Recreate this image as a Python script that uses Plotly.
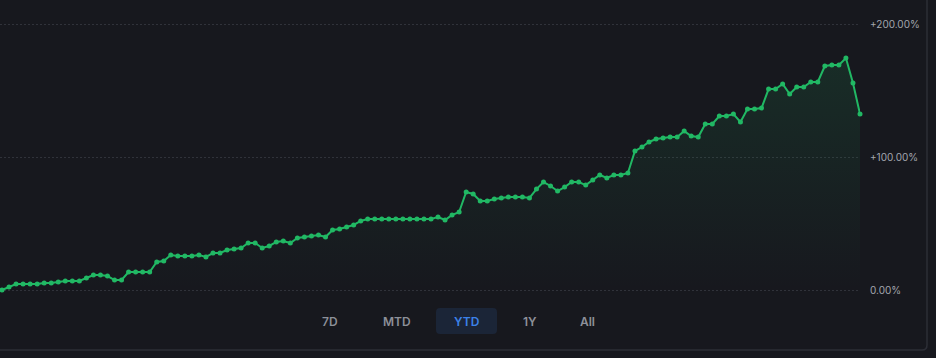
import pandas as pd
import plotly.graph_objects as go

# ---- data ----
start_date = "2024-01-01"
returns_pct = [
    0.0, 2.3, 4.5, 4.5, 4.5, 4.5, 5.3, 5.3, 6.0, 6.8,
    6.8, 6.8, 9.0, 11.3, 11.3, 10.5, 7.5, 7.5, 13.5, 13.5,
    13.5, 13.5, 21.1, 21.8, 26.3, 25.6, 25.6, 25.6, 26.3, 24.8,
    27.8, 27.8, 30.1, 30.8, 31.6, 35.3, 35.3, 31.6, 33.1, 36.1,
    36.8, 35.3, 39.1, 39.8, 40.6, 41.4, 39.8, 45.1, 45.9, 47.4,
    48.9, 51.9, 53.4, 53.4, 53.4, 53.4, 53.4, 53.4, 53.4, 53.4,
    53.4, 53.4, 54.9, 52.6, 56.4, 58.6, 73.7, 72.2, 66.9, 66.9,
    68.4, 69.2, 69.9, 69.9, 69.9, 69.2, 75.9, 81.2, 78.2, 74.4,
    77.4, 81.2, 81.2, 78.9, 82.7, 86.5, 84.2, 86.5, 86.5, 88.0,
    104.5, 107.5, 111.3, 113.5, 114.3, 115.0, 115.0, 119.5, 115.8, 115.0,
    124.8, 124.8, 130.8, 130.8, 132.3, 126.3, 136.1, 136.1, 136.8, 151.1,
    151.1, 154.9, 147.4, 152.6, 152.6, 156.4, 156.4, 168.4, 169.2, 169.2,
    174.4, 155.6, 132.3,
]
tick_values = [0, 100, 200]
tick_labels = ["0.00%", "+100.00%", "+200.00%"]
range_buttons = ["7D", "MTD", "YTD", "1Y", "All"]
active_button = "YTD"

dates = pd.date_range(start_date, periods=len(returns_pct), freq="D")

# ---- style / geometry ----
W, H = 936, 358
ML, MR, MT, MB = 0, 76, 0, 58
PW, PH = W - ML - MR, H - MT - MB
BG = "#17181e"
GREEN = "#21b864"
GRID = "#30323a"
BORDER = "#2c2e36"


def px(x):
    return (x - ML) / PW


def py(y):
    return (MT + PH - y) / PH


fig = go.Figure()
fig.add_trace(
    go.Scatter(
        x=dates,
        y=returns_pct,
        mode="lines+markers",
        line=dict(color=GREEN, width=2),
        marker=dict(color=GREEN, size=5),
        fill="tozeroy",
        fillgradient=dict(
            type="vertical",
            colorscale=[[0, "rgba(33,184,100,0)"], [1, "rgba(33,184,100,0.13)"]],
        ),
        cliponaxis=False,
        hoverinfo="skip",
        showlegend=False,
    )
)

x0 = dates[0] - pd.Timedelta(hours=6.8)
x1 = dates[-1]

# card border (right + bottom with rounded corner)
r = 5
bx, by = 927, 350
border_path = (
    f"M {px(bx)},{py(-5)} L {px(bx)},{py(by - r)} "
    f"Q {px(bx)},{py(by)} {px(bx - r)},{py(by)} L {px(-5)},{py(by)}"
)

# active button background (rounded rect)
bl, br_, bt, bb, rr = 436, 497, 308, 334, 4
btn_path = (
    f"M {px(bl + rr)},{py(bt)} L {px(br_ - rr)},{py(bt)} "
    f"Q {px(br_)},{py(bt)} {px(br_)},{py(bt + rr)} L {px(br_)},{py(bb - rr)} "
    f"Q {px(br_)},{py(bb)} {px(br_ - rr)},{py(bb)} L {px(bl + rr)},{py(bb)} "
    f"Q {px(bl)},{py(bb)} {px(bl)},{py(bb - rr)} L {px(bl)},{py(bt + rr)} "
    f"Q {px(bl)},{py(bt)} {px(bl + rr)},{py(bt)} Z"
)

shapes = [
    dict(type="path", path=border_path, xref="paper", yref="paper",
         line=dict(color=BORDER, width=1.5), layer="below"),
    dict(type="path", path=btn_path, xref="paper", yref="paper",
         fillcolor="#1b2537", line=dict(width=0), layer="below"),
]

button_centers = [330, 396.5, 466.5, 529.5, 587.5]
annotations = []
for label, cx in zip(range_buttons, button_centers):
    active = label == active_button
    annotations.append(
        dict(
            text=label, x=px(cx), y=py(321), xref="paper", yref="paper",
            xanchor="center", yanchor="middle", showarrow=False,
            font=dict(family="Inter, Roboto, sans-serif", size=12, weight=600,
                      color="#3b82e8" if active else "#8d9099"),
        )
    )

fig.update_layout(
    width=W, height=H,
    margin=dict(l=ML, r=MR, t=MT, b=MB, pad=0),
    paper_bgcolor=BG, plot_bgcolor=BG,
    shapes=shapes, annotations=annotations,
    xaxis=dict(range=[x0, x1], showgrid=False, zeroline=False,
               showticklabels=False, showline=False, ticks=""),
    yaxis=dict(range=[-7.52, 218.05], side="right", tickvals=tick_values,
               ticktext=tick_labels, showgrid=True, gridcolor=GRID,
               griddash="2px,2px", gridwidth=1, zeroline=False,
               showline=False, ticks="", ticklabelstandoff=9,
               tickfont=dict(family="Inter, Roboto, sans-serif", size=10,
                             color="#a3a6ae")),
    hovermode=False,
)

fig.write_html("out.html", config={"displayModeBar": False},
               post_script="document.body.style.margin='0';")
